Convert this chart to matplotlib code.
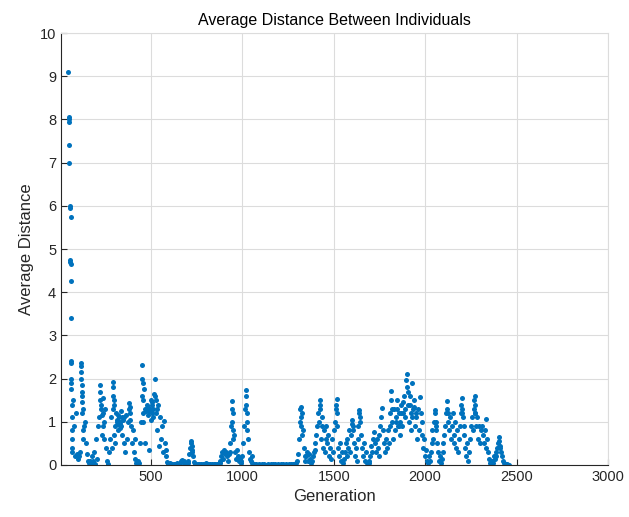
import numpy as np
import matplotlib.pyplot as plt

plt.rcParams['font.family'] = ['Liberation Sans', 'DejaVu Sans']

# first generations: large spread before the population collapses
early_gen = [48, 50, 51, 52, 53, 54, 55, 56, 57, 58, 60, 61, 62, 63, 65]
early_val = [9.1, 8.05, 7.95, 8.0, 7.4, 7.0, 6.0, 5.95, 4.75, 4.7, 4.65, 5.75, 4.25, 3.4, 2.4]

# average distance sampled every 5 generations, starting at generation 60
avg_dist = [
    2.35, 1.9, 0.3, 1.5, 0.9, 0.2, 1.2, 0.25, 0.15, 0.2, 0.3, 2.37, 2.16, 1.7, 1.3, 0.9, 1.0, 0.5, 0.25, 0.1,
    0.05, 0.1, 0.02, 0.2, 0.05, 0.1, 0.3, 0.03, 0.6, 0.15, 0.9, 1.1, 1.86, 1.4, 0.7, 1.2, 1.55, 1.0, 1.3, 0.4,
    0.1, 0.03, 0.3, 0.6, 1.1, 0.4, 1.3, 1.93, 1.5, 0.9, 1.2, 1.0, 0.8, 1.1, 0.95, 1.25, 0.7, 1.05, 0.5, 1.1,
    0.3, 1.15, 0.6, 1.0, 1.43, 1.35, 0.9, 0.5, 0.8, 0.3, 0.6, 0.15, 0.05, 0.02, 0.1, 0.05, 0.5, 1.0, 2.32, 1.9,
    1.75, 1.3, 0.5, 1.25, 1.4, 1.15, 0.35, 1.3, 1.05, 1.45, 1.3, 1.65, 1.98, 1.5, 1.2, 0.8, 1.4, 0.45, 1.1, 0.6,
    0.9, 0.3, 1.02, 0.5, 0.2, 0.35, 0.08, 0.03, 0.02, 0.05, 0.01, 0.02, 0.01, 0.03, 0.02, 0.01, 0.04, 0.02, 0.01, 0.03,
    0.05, 0.1, 0.12, 0.08, 0.1, 0.05, 0.03, 0.02, 0.05, 0.1, 0.25, 0.4, 0.56, 0.45, 0.2, 0.08, 0.03, 0.02, 0.01, 0.02,
    0.01, 0.02, 0.01, 0.03, 0.01, 0.02, 0.01, 0.02, 0.04, 0.01, 0.02, 0.01, 0.03, 0.02, 0.01, 0.02, 0.01, 0.03, 0.02, 0.01,
    0.02, 0.01, 0.03, 0.05, 0.1, 0.2, 0.3, 0.15, 0.35, 0.25, 0.3, 0.2, 0.1, 0.25, 0.3, 0.5, 0.9, 1.47, 1.2, 0.7,
    0.3, 0.15, 0.35, 0.2, 0.1, 0.15, 0.05, 0.1, 0.2, 0.5, 0.9, 1.3, 1.74, 1.2, 0.6, 0.3, 0.15, 0.1, 0.2, 0.05,
    0.03, 0.02, 0.01, 0.02, 0.01, 0.01, 0.02, 0.01, 0.01, 0.02, 0.01, 0.01, 0.02, 0.01, 0.01, 0.01, 0.02, 0.01, 0.01, 0.02,
    0.01, 0.02, 0.01, 0.01, 0.02, 0.01, 0.01, 0.02, 0.01, 0.01, 0.02, 0.01, 0.01, 0.02, 0.01, 0.01, 0.02, 0.01, 0.01, 0.02,
    0.01, 0.02, 0.01, 0.02, 0.01, 0.02, 0.03, 0.05, 0.1, 0.25, 0.6, 1.0, 1.35, 1.2, 0.8, 0.4, 0.2, 0.1, 0.2, 0.3,
    0.1, 0.25, 0.15, 0.05, 0.1, 0.2, 0.3, 0.5, 0.35, 0.7, 0.9, 1.2, 1.0, 1.5, 0.6, 1.1, 0.4, 0.8, 0.3, 0.6,
    0.9, 0.5, 0.7, 0.2, 0.4, 0.15, 0.6, 0.3, 0.8, 1.0, 1.3, 1.52, 0.9, 0.4, 0.2, 0.5, 0.1, 0.3, 0.05, 0.15,
    0.3, 0.5, 0.2, 0.6, 0.4, 0.8, 0.3, 0.7, 1.04, 0.9, 0.5, 0.2, 0.4, 0.1, 0.6, 0.9, 1.27, 1.0, 0.7, 0.4,
    0.2, 0.5, 0.1, 0.3, 0.05, 0.02, 0.1, 0.05, 0.2, 0.43, 0.3, 0.6, 0.77, 0.5, 0.3, 0.6, 0.4, 0.2, 0.7, 0.9,
    1.1, 1.32, 0.8, 0.5, 0.3, 0.6, 0.4, 0.8, 0.5, 0.9, 1.2, 1.72, 1.0, 0.6, 1.3, 0.8, 1.1, 1.5, 0.9, 1.2,
    0.7, 1.0, 1.4, 0.9, 1.2, 1.6, 1.1, 1.96, 2.1, 1.4, 1.0, 1.6, 1.2, 0.8, 1.9, 1.3, 1.5, 0.9, 1.1, 0.6,
    1.3, 0.8, 1.58, 1.2, 0.7, 1.0, 0.4, 0.6, 0.2, 0.35, 0.1, 0.05, 0.2, 0.1, 0.3, 0.5, 0.8, 0.6, 1.0, 1.27,
    0.9, 0.5, 0.3, 0.1, 0.2, 0.05, 0.15, 0.3, 0.5, 0.7, 0.9, 1.2, 1.47, 1.0, 0.8, 1.1, 0.6, 0.9, 1.2, 0.7,
    0.5, 1.0, 0.4, 0.8, 0.3, 0.6, 0.9, 1.2, 1.55, 1.1, 0.7, 0.9, 0.4, 0.2, 0.5, 0.1, 0.3, 0.6, 0.9, 1.1,
    0.8, 1.3, 1.6, 1.2, 0.9, 1.1, 0.6, 0.9, 0.5, 0.8, 0.9, 0.7, 0.5, 0.8, 0.4, 1.06, 0.6, 0.3, 0.15, 0.05,
    0.02, 0.1, 0.05, 0.2, 0.15, 0.3, 0.2, 0.4, 0.5, 0.65, 0.45, 0.3, 0.2, 0.1, 0.05, 0.03, 0.02, 0.01, 0.02, 0.01,
    0.01,
]
generation = 60 + 5 * np.arange(len(avg_dist))

# extra readings inside the busy columns of each burst
extra_gen = [63, 64, 66, 67, 68, 69, 70,
             118, 119, 121, 122, 123, 124, 126, 128,
             221, 223, 226, 231, 237, 243,
             291, 293, 296, 298, 301,
             312, 318, 322, 328, 333, 338, 343,
             381, 383, 387,
             451, 452, 454, 457, 459,
             483, 492, 498, 503, 508, 513, 523, 533,
             718, 722, 724,
             943, 946, 948, 951,
             1018, 1021, 1023, 1027,
             1318, 1321, 1323, 1326,
             1423, 1427, 1433,
             1513, 1517,
             1598, 1603,
             1638, 1643,
             1813, 1818,
             1838, 1848, 1858, 1868, 1878, 1888, 1898, 1908, 1918, 1928, 1938, 1948,
             2053, 2057, 2058,
             2118, 2123,
             2198, 2202, 2204,
             2268, 2272, 2274,
             2403, 2407]
extra_val = [2.0, 1.75, 1.4, 1.1, 0.8, 0.6, 0.4,
             2.3, 2.0, 1.85, 1.6, 1.45, 1.2, 0.8, 0.6,
             1.7, 1.5, 1.3, 1.15, 0.9, 0.6,
             1.8, 1.6, 1.4, 0.7, 0.5,
             1.05, 0.95, 1.15, 0.85, 1.0, 0.9, 1.1,
             1.3, 1.2, 1.05,
             2.0, 1.6, 1.5, 1.2, 1.0,
             1.35, 1.25, 1.5, 1.2, 1.4, 1.1, 1.6, 1.3,
             0.5, 0.35, 0.3,
             1.3, 1.0, 0.8, 0.6,
             1.6, 1.4, 1.0, 0.8,
             1.3, 1.1, 0.9, 0.7,
             1.3, 1.4, 0.9,
             1.4, 1.2,
             0.95, 0.8,
             1.2, 1.1,
             1.5, 1.3,
             1.0, 1.3, 0.9, 1.2, 1.45, 1.3, 1.8, 1.7, 1.4, 1.1, 1.35, 1.2,
             1.2, 1.0, 0.8,
             1.3, 1.2,
             1.4, 1.3, 1.2,
             1.5, 1.4, 1.2,
             0.55, 0.4]

x_ticks = [500, 1000, 1500, 2000, 2500, 3000]
y_ticks = list(range(0, 11))

blue = '#0072BD'
ink = '#262626'
light = '#dcdcdc'

fig = plt.figure(figsize=(6.29, 5.17), dpi=100)
ax = fig.add_axes([0.097, 0.1006, 0.8696, 0.8355])

ax.scatter(early_gen, early_val, s=13, color=blue, linewidths=0)
ax.scatter(generation, avg_dist, s=13, color=blue, linewidths=0)
ax.scatter(extra_gen, extra_val, s=13, color=blue, linewidths=0)

ax.set_xlim(8, 3000)
ax.set_ylim(0, 10)
ax.set_xticks(x_ticks)
ax.set_yticks(y_ticks)
ax.grid(True, color=light, linewidth=0.8)
ax.set_axisbelow(True)
ax.tick_params(direction='in', length=4, colors=ink, labelsize=10.5, width=0.8)
for side in ['left', 'bottom']:
    ax.spines[side].set_color(ink)
    ax.spines[side].set_linewidth(0.8)
for side in ['top', 'right']:
    ax.spines[side].set_color(light)
    ax.spines[side].set_linewidth(0.8)

ax.set_title('Average Distance Between Individuals', fontsize=11.5, color='black', pad=6)
ax.set_xlabel('Generation', fontsize=12, color=ink)
ax.set_ylabel('Average Distance', fontsize=12, color=ink)

fig.savefig('out.png', dpi=100)
